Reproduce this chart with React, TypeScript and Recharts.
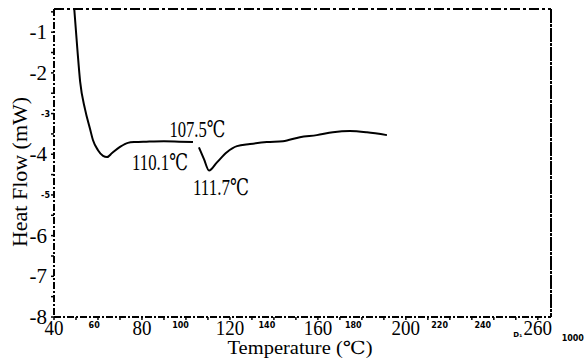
import React from 'react';
import { LineChart, Line, XAxis, YAxis, ReferenceDot, Label } from 'recharts';

// Data
const curve1T = [49.2, 50.6, 51.9, 54.1, 56.4, 57.7, 60.0, 62.3, 64.1, 66.4, 70.0, 73.6, 76.8, 82, 90, 97, 103.2];
const curve1V = [-0.42, -1.4, -2.22, -2.89, -3.38, -3.65, -3.9, -4.04, -4.07, -3.97, -3.82, -3.72, -3.7, -3.69, -3.68, -3.69, -3.7];
const curve2T = [105.9, 108.2, 110.5, 114.1, 118.6, 123.2, 129.1, 136.8, 144.1, 151.8, 159.5, 166.8, 174.5, 182.3, 191.4];
const curve2V = [-3.83, -4.12, -4.4, -4.2, -3.95, -3.8, -3.75, -3.7, -3.68, -3.58, -3.53, -3.46, -3.43, -3.46, -3.53];

const xTicks = [40, 50, 60, 70, 80, 90, 100, 110, 120, 130, 140, 150, 160, 170, 180, 190, 200, 210, 220, 230, 240, 250, 260];
const xBigLabels = [40, 80, 120, 160, 200, 260];
const xSmallLabels = [60, 100, 140, 180, 220, 240];
const yTicks = [-8, -7.5, -7, -6.5, -6, -5.5, -5, -4.5, -4, -3.5, -3, -2.5, -2, -1.5, -1, -0.5];
const yBigLabels = [-8, -7, -6, -4, -2, -1];
const ySmallLabels = [-5, -3];

const annoText = ['107.5℃', '110.1℃', '111.7℃'];
const annoT = [105.2, 88.2, 115.9];
const annoV = [-3.37, -4.19, -4.81];

const data1 = curve1T.map((t, i) => ({ t, v: curve1V[i] }));
const data2 = curve2T.map((t, i) => ({ t, v: curve2V[i] }));

const SERIF = "'Liberation Serif', 'DejaVu Serif', serif";
const SANS = "'DejaVu Sans', sans-serif";

const XTick = (props: any) => {
  const { x, y, payload } = props;
  const v = payload.value;
  if (xBigLabels.includes(v)) {
    const s = String(v);
    return (
      <g>
        <text x={x} y={y + 15} textAnchor="middle" fontFamily={SERIF} fontSize={21}
          textLength={s.length * 9.5} lengthAdjust="spacingAndGlyphs" fill="#000">{s}</text>
        {v === 260 && (
          <text x={x - 20} y={y + 17} textAnchor="middle" fontFamily={SANS} fontWeight="bold" fontSize={7} fill="#000">D₁</text>
        )}
        {v === 260 && (
          <text x={x + 35} y={y + 21} textAnchor="middle" fontFamily={SANS} fontWeight="bold" fontSize={8} fill="#000">1000</text>
        )}
      </g>
    );
  }
  if (xSmallLabels.includes(v)) {
    const s = String(v);
    return (
      <text x={x - 3 - (v - 40) * 0.04} y={y + 8} textAnchor="middle" fontFamily={SANS} fontWeight="bold" fontSize={8} fill="#000">{s}</text>
    );
  }
  return <g />;
};

const YTick = (props: any) => {
  const { y, payload } = props;
  const v = payload.value;
  if (yBigLabels.includes(v)) {
    return (
      <text x={47} y={y + 7} textAnchor="end" fontFamily={SERIF} fontSize={21} fill="#000">{String(v)}</text>
    );
  }
  if (ySmallLabels.includes(v)) {
    return (
      <text x={50} y={y + 3} textAnchor="end" fontFamily={SANS} fontWeight="bold" fontSize={8} fill="#000">{String(v)}</text>
    );
  }
  return <g />;
};

const YTitle = () => {
  return (
    <text x={0} y={0} transform="translate(27,172) rotate(-90)" textAnchor="middle" fontFamily={SERIF} fontSize={20}
      textLength={150} lengthAdjust="spacingAndGlyphs" fill="#000">Heat Flow (mW)</text>
  );
};

const XTitle = () => {
  return (
    <text x={300} y={354} textAnchor="middle" fontFamily={SERIF} fontSize={18}
      textLength={145} lengthAdjust="spacingAndGlyphs" fill="#000">Temperature (℃)</text>
  );
};

const AnnoShape = (text: string) => (props: any) => {
  const { cx, cy } = props;
  return (
    <text x={cx} y={cy + 8} textAnchor="middle" fontFamily={SERIF} fontSize={23}
      textLength={56} lengthAdjust="spacingAndGlyphs" fill="#000">{text}</text>
  );
};

const axisStyle = { stroke: '#000', strokeWidth: 2, strokeDasharray: '7 2 2 2' };
const tickStyle = { stroke: '#000', strokeWidth: 1.5 };

export default function App() {
  return (
    <div style={{ position: 'absolute', left: 0, top: 0, width: 588, height: 359, background: '#fff' }}>
      <LineChart width={588} height={359} margin={{ top: 8, right: 36, bottom: 0, left: 0 }}>
        <XAxis dataKey="t" type="number" domain={[40, 266]} ticks={xTicks} interval={0}
          allowDataOverflow height={42} axisLine={axisStyle} tickLine={tickStyle} tickSize={3} tickMargin={0}
          tick={<XTick />}>
          <Label content={<XTitle />} />
        </XAxis>
        <XAxis xAxisId="top" orientation="top" type="number" domain={[40, 266]} ticks={xTicks} interval={0}
          allowDataOverflow height={1} axisLine={{ stroke: '#000', strokeWidth: 2, strokeDasharray: '10 3 3 3' }}
          tickLine={tickStyle} tickSize={3} tick={false} />
        <YAxis type="number" domain={[-8, -0.43]} ticks={yTicks} interval={0} allowDataOverflow width={54}
          axisLine={axisStyle} tickLine={tickStyle} tickSize={3} tickMargin={0} tick={<YTick />}>
          <Label content={<YTitle />} />
        </YAxis>
        <YAxis yAxisId="r" orientation="right" type="number" domain={[-8, -0.43]} ticks={yTicks} interval={0}
          allowDataOverflow width={1} axisLine={{ stroke: '#000', strokeWidth: 2, strokeDasharray: '14 1 3 1' }}
          tickLine={tickStyle} tickSize={3} tick={false} />
        <Line data={data1} dataKey="v" type="monotone" stroke="#000" strokeWidth={2} dot={false} isAnimationActive={false} />
        <Line data={data2} dataKey="v" type="monotone" stroke="#000" strokeWidth={2} dot={false} isAnimationActive={false} />
        {annoText.map((s, i) => (
          <ReferenceDot key={s} x={annoT[i]} y={annoV[i]} r={0} shape={AnnoShape(s)} />
        ))}
      </LineChart>
    </div>
  );
}
